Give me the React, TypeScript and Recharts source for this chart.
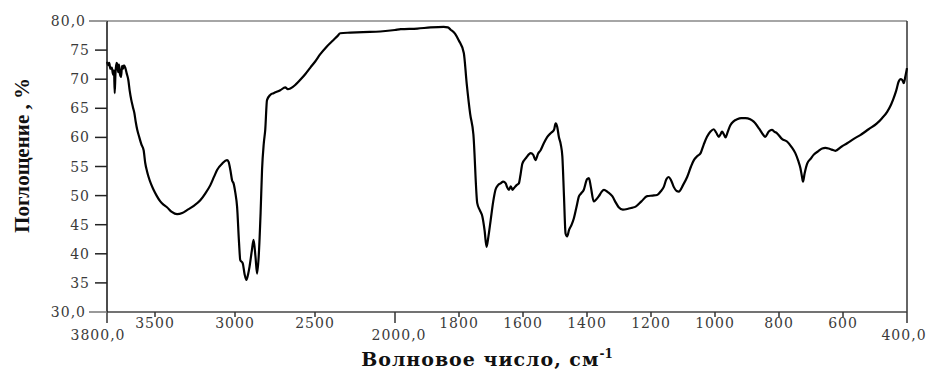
import React from 'react';
import { LineChart, Line, XAxis, YAxis, ReferenceLine } from 'recharts';

// IR spectrum: wavenumber (cm-1) and absorption (%)
const wavenumbers = [
  3800, 3792, 3786, 3779, 3770, 3762, 3756, 3752, 3747, 3741, 3736, 3730, 3725, 3719, 3712, 3706, 3700, 3694, 3686, 3677,
  3667, 3658, 3648, 3638, 3629, 3620, 3611, 3600, 3585, 3571, 3561, 3550, 3540, 3525, 3509, 3490, 3467, 3445, 3425, 3395,
  3362, 3330, 3300, 3260, 3217, 3185, 3154, 3130, 3112, 3080, 3050, 3040, 3029, 3018, 3009, 2998, 2987, 2975, 2967, 2952,
  2940, 2929, 2918, 2909, 2895, 2884, 2872, 2862, 2852, 2840, 2831, 2820, 2811, 2800, 2780, 2759, 2717, 2686, 2670, 2654,
  2620, 2592, 2560, 2529, 2500, 2467, 2430, 2386, 2360, 2342, 2279, 2200, 2092, 2000, 1982, 1930, 1889, 1848, 1835, 1826,
  1812, 1801, 1785, 1776, 1765, 1755, 1743, 1735, 1727, 1720, 1714, 1708, 1701, 1693, 1686, 1678, 1670, 1662, 1654, 1650,
  1644, 1638, 1633, 1628, 1620, 1613, 1608, 1602, 1590, 1576, 1568, 1561, 1553, 1545, 1535, 1524, 1512, 1503, 1498, 1493,
  1488, 1482, 1477, 1472, 1467, 1462, 1456, 1448, 1441, 1433, 1425, 1418, 1410, 1400, 1394, 1388, 1379, 1372, 1363, 1355,
  1347, 1335, 1321, 1310, 1301, 1288, 1274, 1260, 1248, 1230, 1212, 1195, 1181, 1170, 1160, 1152, 1145, 1137, 1129, 1120,
  1113, 1100, 1087, 1075, 1066, 1055, 1045, 1035, 1025, 1014, 1004, 996, 988, 983, 978, 972, 967, 960, 952, 941,
  931, 918, 905, 890, 879, 862, 850, 843, 832, 822, 815, 806, 790, 775, 760, 749, 740, 733, 728, 725,
  720, 712, 700, 692, 678, 665, 655, 645, 635, 624, 605, 587, 565, 546, 520, 494, 478, 462, 450, 442,
  434, 426, 420, 415, 410, 405, 400,
];

const absorbance = [
  73.0, 72.4, 72.8, 71.8, 72.0, 70.8, 71.5, 67.6, 71.0, 72.8, 72.6, 71.2, 72.5, 70.9, 70.4, 72.3, 71.8, 72.4, 72.0, 71.0,
  69.9, 68.0, 66.4, 65.2, 64.2, 62.6, 61.3, 60.2, 58.8, 57.8, 55.6, 54.2, 53.2, 52.0, 51.0, 50.0, 49.0, 48.4, 48.0, 47.2,
  46.8, 47.0, 47.5, 48.2, 49.2, 50.4, 51.8, 53.3, 54.4, 55.5, 56.1, 55.8, 54.4, 52.6, 52.1, 50.5, 48.1, 42.0, 38.9, 38.4,
  36.5, 35.5, 36.5, 37.8, 40.5, 42.4, 39.5, 36.6, 39.5, 47.0, 54.4, 59.0, 61.3, 66.4, 67.3, 67.6, 68.1, 68.6, 68.3, 68.4,
  69.1, 69.9, 70.9, 72.0, 73.0, 74.3, 75.5, 76.7, 77.4, 77.9, 78.0, 78.1, 78.2, 78.45, 78.6, 78.7, 78.9, 79.0, 78.9, 78.5,
  77.8, 76.7, 74.5, 69.3, 64.0, 60.5, 48.7, 47.5, 46.4, 44.0, 41.2, 43.0, 45.8, 49.0, 51.0, 51.8, 52.1, 52.4, 52.1, 51.5,
  51.0, 51.6, 51.0, 51.3, 51.8, 52.1, 53.5, 55.5, 56.5, 57.3, 57.0, 56.1, 57.2, 57.8, 59.0, 60.1, 60.8, 61.3, 62.4, 61.8,
  60.1, 58.8, 56.7, 50.0, 43.5, 43.0, 44.1, 45.0, 46.1, 48.0, 49.9, 50.4, 51.0, 52.8, 53.0, 51.5, 49.0, 49.3, 49.9, 50.6,
  51.0, 50.6, 49.9, 48.8, 48.0, 47.6, 47.7, 47.9, 48.1, 49.0, 49.9, 50.0, 50.1, 50.7, 51.5, 52.8, 53.2, 52.6, 51.5, 50.8,
  50.7, 51.8, 53.2, 55.0, 56.1, 56.8, 57.3, 58.8, 60.1, 61.0, 61.4, 60.8, 60.1, 60.5, 61.0, 60.5, 60.0, 61.0, 62.1, 62.8,
  63.1, 63.3, 63.3, 63.1, 62.7, 61.5, 60.5, 60.1, 61.0, 61.3, 61.0, 60.7, 59.7, 59.3, 58.3, 57.3, 56.0, 54.7, 53.2, 52.4,
  53.8, 55.5, 56.4, 57.0, 57.6, 58.1, 58.2, 58.1, 57.9, 57.7, 58.4, 59.0, 59.8, 60.4, 61.4, 62.4, 63.3, 64.4, 65.6, 66.7,
  68.0, 69.6, 70.0, 69.9, 69.3, 70.5, 71.9,
];

const xTickValues = [3800, 3500, 3000, 2500, 2000, 1800, 1600, 1400, 1200, 1000, 800, 600, 400];
const xMajorTicks = [3800, 2000, 400];
const yTickValues = [30, 35, 40, 45, 50, 55, 60, 65, 70, 75, 80];
const yEndTicks = [30, 80];

// The range above 2000 cm-1 is drawn at half the density of the range below it
const toPos = (wn: number) => (wn >= 2000 ? (3800 - wn) / 2 : 900 + (2000 - wn));
const fromPos = (p: number) => (p <= 900 ? 3800 - p * 2 : 2000 - (p - 900));

const data = wavenumbers.map((wn, i) => ({ pos: toPos(wn), wn, value: absorbance[i] }));

const tickFont = { fontFamily: 'DejaVu Serif', fontSize: 14, fill: '#3a3a3a', letterSpacing: 1 };

const XTick = (props: any) => {
  const { x, y, payload } = props;
  const wn = Math.round(fromPos(payload.value));
  const major = xMajorTicks.includes(wn);
  const dx = wn === 3800 ? -9 : wn === 2000 ? 4 : wn === 400 ? -3 : 0;
  return (
    <g>
      <line x1={x} x2={x} y1={y} y2={y + (major ? 11 : 5)} stroke="#333" strokeWidth={1.5} />
      <text x={x + dx} y={y + (major ? 28 : 16)} textAnchor="middle" {...tickFont}>
        {major ? `${wn},0` : `${wn}`}
      </text>
    </g>
  );
};

const YTick = (props: any) => {
  const { x, y, payload } = props;
  const v = payload.value;
  const end = yEndTicks.includes(v);
  return (
    <g>
      <line x1={end ? x - 2 : x + 4} x2={x + 16} y1={y} y2={y} stroke={end ? '#777' : '#222'} strokeWidth={1.5} />
      <text x={end ? x - 5 : x - 1} y={y} dy="0.36em" textAnchor="end" {...tickFont}>
        {end ? `${v},0` : `${v}`}
      </text>
    </g>
  );
};

const YLabel = (props: any) => {
  const { viewBox } = props;
  const cx = 22;
  const cy = viewBox.y + viewBox.height / 2 - 11;
  return (
    <text
      x={cx}
      y={cy}
      transform={`rotate(-90, ${cx}, ${cy})`}
      textAnchor="middle"
      dominantBaseline="central"
      fontFamily="Liberation Serif"
      fontWeight="bold"
      fontSize={21}
      fill="#111"
    >
      Поглощение , %
    </text>
  );
};

const XLabel = (props: any) => {
  const { viewBox } = props;
  const cx = viewBox.x + viewBox.width / 2 - 20;
  return (
    <text
      x={cx}
      y={366}
      textAnchor="middle"
      fontFamily="DejaVu Serif"
      fontWeight="bold"
      fontSize={19}
      letterSpacing={1}
      fill="#111"
    >
      Волновое число, см
      <tspan dy={-8} fontSize={12} letterSpacing={0}>-1</tspan>
    </text>
  );
};

export default function App() {
  return (
    <div style={{ position: 'absolute', left: 0, top: 0, width: 935, height: 369, background: '#fff' }}>
      <LineChart width={935} height={369} data={data} margin={{ top: 21, right: 28, left: 0, bottom: 0 }}>
        <XAxis
          dataKey="pos"
          type="number"
          domain={[0, 2500]}
          ticks={xTickValues.map(toPos)}
          interval={0}
          height={57}
          tickLine={false}
          tickSize={0}
          tickMargin={0}
          tick={<XTick />}
          axisLine={{ stroke: '#444', strokeWidth: 1.5 }}
          label={<XLabel />}
        />
        <YAxis
          type="number"
          domain={[30, 80]}
          ticks={yTickValues}
          interval={0}
          width={107}
          tickLine={false}
          tickSize={12}
          tickMargin={4}
          tick={<YTick />}
          axisLine={{ stroke: '#111', strokeWidth: 1.5 }}
          label={<YLabel />}
        />
        <ReferenceLine y={80} stroke="#888" strokeWidth={1.5} />
        <ReferenceLine x={2500} stroke="#333" strokeWidth={1.5} />
        <Line
          type="monotone"
          dataKey="value"
          stroke="#000"
          strokeWidth={2.2}
          dot={false}
          isAnimationActive={false}
        />
      </LineChart>
    </div>
  );
}
